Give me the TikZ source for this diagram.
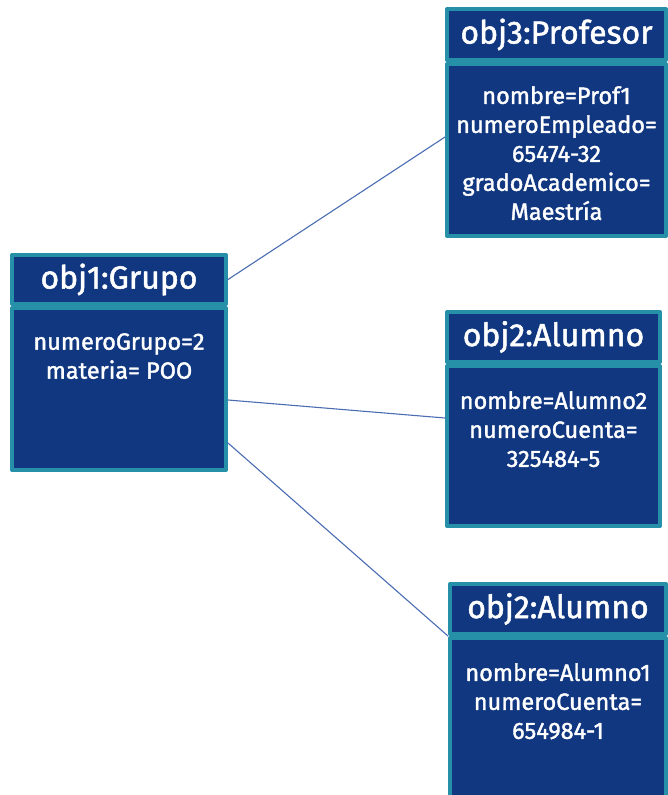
\documentclass[tikz,border=0pt]{standalone}
\usepackage{fontspec}
\setmainfont{Fira Sans}[FakeBold=1.6]
\definecolor{objfill}{HTML}{10377F}
\definecolor{objedge}{HTML}{2590A8}
\definecolor{linkline}{HTML}{4A6CB2}
\begin{document}
\begin{tikzpicture}[x=1pt,y=-1pt,line join=round,line cap=round,
	objhead/.style={draw=objedge,fill=objfill,line width=4pt,text=white,font=\fontsize{32}{35}\selectfont,inner sep=0pt},
	objbody/.style={draw=objedge,fill=objfill,line width=4pt,inner sep=0pt},
	objattr/.style={text=white,align=center,font=\fontsize{23.5}{29}\selectfont,inner sep=0pt,anchor=north},
	link/.style={draw=linkline,line width=1.1pt}]
			\useasboundingbox (0,0) rectangle (668,795);
			\clip (0,0) rectangle (668,795);
			\node[objhead,minimum width=214pt,minimum height=49pt] (grupo) at (119,279.5) {obj1:Grupo};
			\node[objbody,minimum width=214pt,minimum height=162pt] (grupob) at (119,389) {};
			\node[objattr] (grupoattr) at ([yshift=-27pt]grupob.north) {numeroGrupo=2\\materia= POO};
			\node[objhead,minimum width=219pt,minimum height=51pt] (prof) at (556.5,34.5) {obj3:Profesor};
			\node[objbody,minimum width=219pt,minimum height=172pt] (profb) at (556.5,150) {};
			\node[objattr] (profattr) at ([yshift=-24pt]profb.north) {nombre=Prof1\\numeroEmpleado=\\65474-32\\gradoAcademico=\\Maestría};
			\node[objhead,minimum width=213pt,minimum height=50pt] (alum2) at (553.5,337) {obj2:Alumno};
			\node[objbody,minimum width=213pt,minimum height=160pt] (alum2b) at (553.5,446) {};
			\node[objattr] (alum2attr) at ([yshift=-27pt]alum2b.north) {nombre=Alumno2\\numeroCuenta=\\325484-5};
			\node[objhead,minimum width=216pt,minimum height=50pt] (alum1) at (558,609) {obj2:Alumno};
			\node[objbody,minimum width=216pt,minimum height=162pt] (alum1b) at (558,719) {};
			\node[objattr] (alum1attr) at ([yshift=-27pt]alum1b.north) {nombre=Alumno1\\numeroCuenta=\\654984-1};
			\draw[link] (grupo.east) -- ([yshift=13pt]profb.west);
			\draw[link] ([yshift=-11pt]grupob.east) -- ([yshift=28pt]alum2b.west);
			\draw[link] ([yshift=-54pt]grupob.east) -- (alum1b.north west);
\end{tikzpicture}
\end{document}
